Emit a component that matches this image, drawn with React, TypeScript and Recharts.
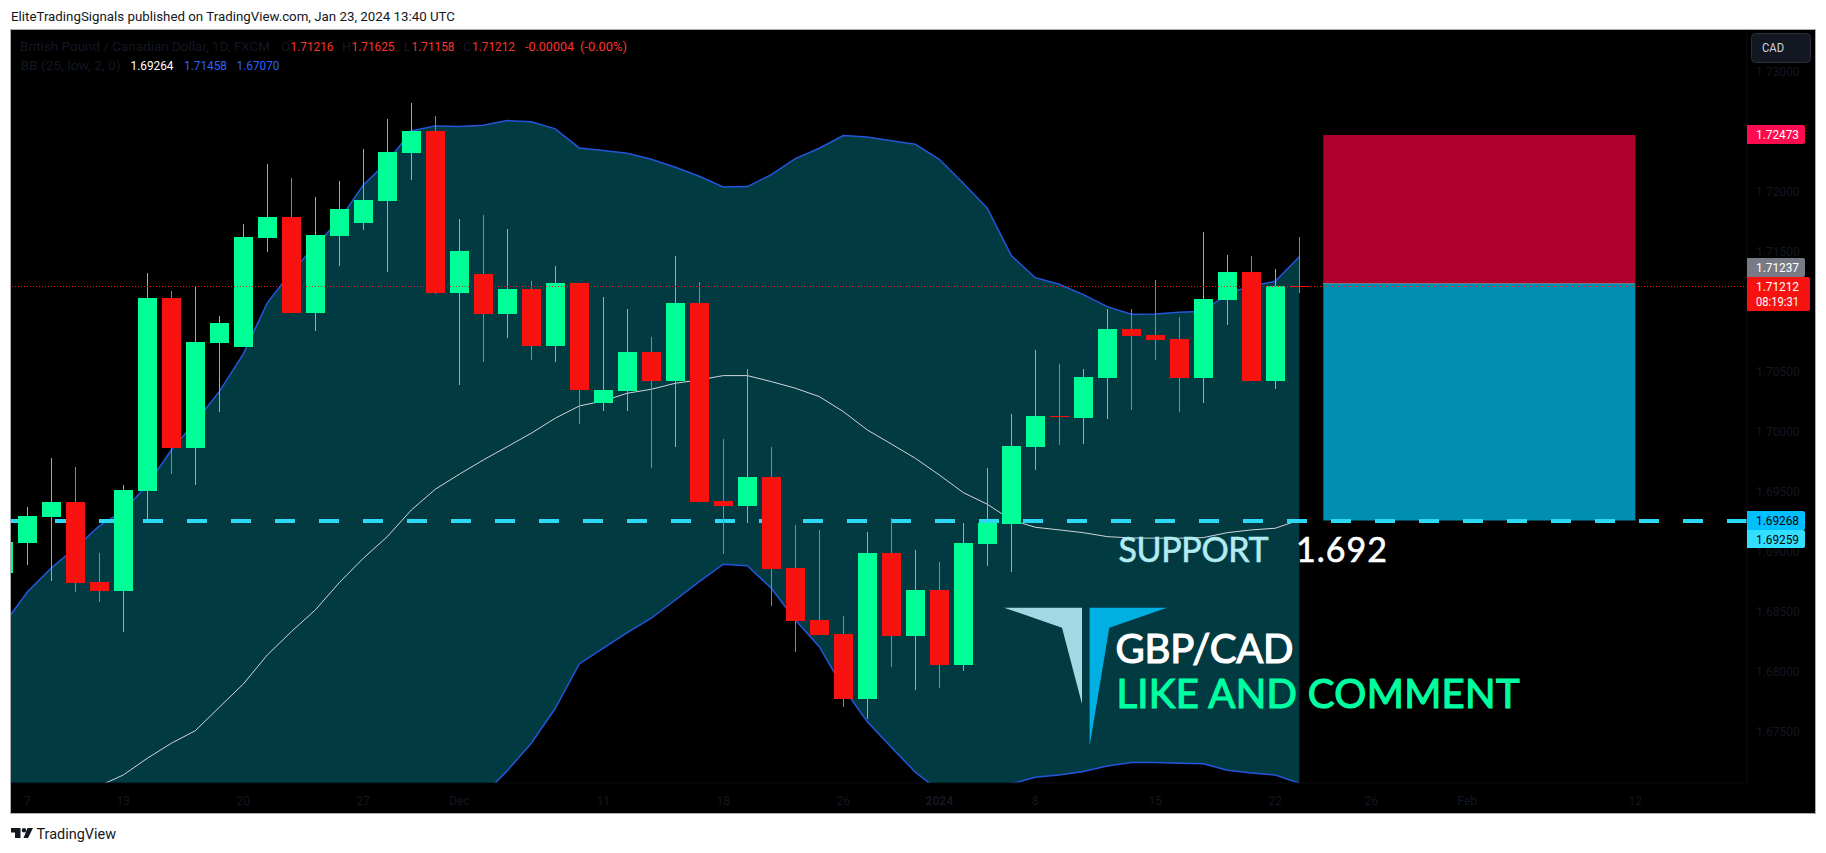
import { ComposedChart, Area, Line, Bar, XAxis, YAxis, ReferenceArea, ReferenceLine } from "recharts";

// GBP/CAD daily candles. Day 0 is Nov 7.
const days = Array.from({ length: 55 }, (_, i) => i - 1);

const opens = [1.68825, 1.69072, 1.69289, 1.69414, 1.68747, 1.68675, 1.69508, 1.71114, 1.69867, 1.70742, 1.70708, 1.71617, 1.71789, 1.70992, 1.71631, 1.71742, 1.71923, 1.72323, 1.72506, 1.71158, 1.71314, 1.70983, 1.71189, 1.70717, 1.71239, 1.70242, 1.70339, 1.70664, 1.70423, 1.71073, 1.69422, 1.69383, 1.69622, 1.68864, 1.68431, 1.68314, 1.67772, 1.68989, 1.68297, 1.68681, 1.68056, 1.69064, 1.69231, 1.69872, 1.70131, 1.70114, 1.70448, 1.70856, 1.70806, 1.70773, 1.70448, 1.71098, 1.71331, 1.70423, 1.71216];
const highs = [1.69081, 1.69372, 1.69781, 1.69706, 1.68989, 1.69556, 1.71323, 1.71173, 1.71214, 1.70964, 1.71731, 1.72231, 1.72114, 1.71956, 1.72089, 1.72356, 1.72606, 1.72739, 1.72631, 1.71773, 1.71806, 1.71689, 1.71256, 1.71381, 1.71239, 1.71123, 1.71023, 1.70789, 1.71464, 1.71248, 1.69939, 1.70523, 1.69872, 1.69222, 1.69181, 1.68464, 1.69164, 1.69281, 1.69014, 1.68914, 1.69239, 1.69697, 1.70148, 1.70681, 1.70564, 1.70523, 1.71023, 1.71023, 1.71264, 1.70956, 1.71664, 1.71473, 1.71464, 1.71356, 1.71625];
const lows = [1.68825, 1.68889, 1.68758, 1.68667, 1.68583, 1.68333, 1.69272, 1.6965, 1.69558, 1.70167, 1.70708, 1.715, 1.70992, 1.70842, 1.71383, 1.71681, 1.71333, 1.72098, 1.71148, 1.70389, 1.70583, 1.70783, 1.706, 1.70583, 1.70067, 1.70175, 1.70173, 1.697, 1.69872, 1.69417, 1.68981, 1.69239, 1.6855, 1.68167, 1.68306, 1.67706, 1.67606, 1.68039, 1.67847, 1.67864, 1.68006, 1.68881, 1.68831, 1.69681, 1.69889, 1.69897, 1.70106, 1.70181, 1.70598, 1.70164, 1.70239, 1.70889, 1.70423, 1.70356, 1.71158];
const closes = [1.69081, 1.69297, 1.69414, 1.68742, 1.68675, 1.69514, 1.71114, 1.69867, 1.70748, 1.70906, 1.71623, 1.71789, 1.70992, 1.71639, 1.71856, 1.71931, 1.72331, 1.72506, 1.71158, 1.71506, 1.70983, 1.71189, 1.70717, 1.71239, 1.7035, 1.70348, 1.70664, 1.70423, 1.71073, 1.69417, 1.69383, 1.69622, 1.68856, 1.68422, 1.68306, 1.67772, 1.68989, 1.68297, 1.68681, 1.68056, 1.69072, 1.69239, 1.69881, 1.70131, 1.70123, 1.70456, 1.70856, 1.70798, 1.70764, 1.70448, 1.71106, 1.71331, 1.70423, 1.71216, 1.71212];

// Bollinger bands, the values under the chart's bottom edge are estimates
const upperBand = [1.68389, 1.68664, 1.68864, 1.69031, 1.69214, 1.69339, 1.69556, 1.69847, 1.70083, 1.70333, 1.70648, 1.71073, 1.71331, 1.71548, 1.71764, 1.72056, 1.72248, 1.72506, 1.72548, 1.72542, 1.72553, 1.72592, 1.72583, 1.72523, 1.72364, 1.72342, 1.7232, 1.7227, 1.72203, 1.72128, 1.72039, 1.72042, 1.72142, 1.72275, 1.72362, 1.72467, 1.72456, 1.72425, 1.72395, 1.7227, 1.7207, 1.71862, 1.71467, 1.71283, 1.71228, 1.71142, 1.71042, 1.70978, 1.70981, 1.70995, 1.71003, 1.7115, 1.71214, 1.71253, 1.71458];
const midBand = [1.66556, 1.66681, 1.66806, 1.66931, 1.67047, 1.67139, 1.67278, 1.67403, 1.67508, 1.67703, 1.67897, 1.68139, 1.68333, 1.68514, 1.68742, 1.68945, 1.69125, 1.69347, 1.6952, 1.69645, 1.69764, 1.69875, 1.69987, 1.70112, 1.70214, 1.70256, 1.7032, 1.70353, 1.70403, 1.70431, 1.70467, 1.70467, 1.70417, 1.70362, 1.70292, 1.70167, 1.70014, 1.69897, 1.69778, 1.69639, 1.69492, 1.69395, 1.69264, 1.69203, 1.69181, 1.69158, 1.69125, 1.69114, 1.69112, 1.69112, 1.69117, 1.69158, 1.69181, 1.69195, 1.69264];
const lowerBand = [1.64722, 1.64697, 1.64747, 1.64831, 1.64881, 1.64939, 1.64997, 1.64956, 1.64931, 1.65072, 1.65147, 1.65206, 1.65339, 1.65481, 1.65722, 1.65831, 1.66006, 1.66189, 1.66489, 1.66747, 1.66972, 1.67175, 1.67403, 1.67695, 1.68064, 1.68195, 1.68325, 1.68445, 1.68597, 1.6875, 1.68895, 1.68883, 1.68695, 1.68431, 1.68208, 1.67862, 1.67583, 1.6737, 1.67162, 1.67006, 1.66914, 1.66931, 1.67064, 1.6712, 1.67139, 1.67167, 1.67214, 1.67242, 1.67242, 1.67237, 1.67233, 1.67178, 1.67156, 1.67139, 1.6707];

const priceTicks = [1.675, 1.68, 1.685, 1.69, 1.695, 1.7, 1.705, 1.715, 1.72, 1.73];
const timeTicks = [0, 4, 9, 14, 18, 24, 29, 34, 38, 42, 47, 52, 56, 60, 67];
const timeLabels = ["7", "13", "20", "27", "Dec", "11", "18", "26", "2024", "8", "15", "22", "26", "Feb", "12"];

const stopLevel = 1.72473;
const entryLevel = 1.71237;
const targetLevel = 1.69259;
const lastPrice = 1.71212;
const boxStart = 54;
const boxEnd = 67;

const GREEN = "#00ff97";
const RED = "#f7120f";
const WICK_DOWN = "#00bcd4";
const BAND = "#2456dc";
const AXIS_TEXT = "#131722";
const LEGEND_RED = "#f7352f";

const table = days.map((day, i) => ({
  day,
  open: opens[i],
  high: highs[i],
  low: lows[i],
  close: closes[i],
  upper: upperBand[i],
  mid: midBand[i],
  lower: lowerBand[i],
}));

// wick and body, scaled from the low-high bar recharts hands us
const Candle = (props: any) => {
  const { x, y, width, height, payload } = props;
  const { open, high, low, close } = payload;
  const up = close >= open;
  const perPrice = height / (high - low);
  const top = y + (high - Math.max(open, close)) * perPrice;
  const bottom = y + (high - Math.min(open, close)) * perPrice;
  const left = Math.round(x);
  const bodyTop = Math.round(top);
  const bodyH = Math.max(1, Math.round(bottom) - bodyTop);
  return (
    <g shapeRendering="crispEdges">
      <rect x={left + Math.floor(width / 2)} y={y} width={1} height={height} fill={up ? GREEN : WICK_DOWN} />
      <rect x={left} y={bodyTop} width={width} height={bodyH} fill={up ? GREEN : RED} />
    </g>
  );
};

const TimeTick = (props: any) => {
  const { x, y, payload } = props;
  const label = timeLabels[timeTicks.indexOf(payload.value)];
  return (
    <text x={x} y={y + 20} textAnchor="middle" fill={AXIS_TEXT} fontSize={12} fontWeight={label === "2024" ? 700 : 400} fontFamily="Roboto">
      {label}
    </text>
  );
};

const T = ({ x, y, len, size = 13, fill = "#131722", family = "Roboto", thick = 0, spaced = false, children }: any) => (
  <text
    x={x}
    y={y}
    textLength={len}
    lengthAdjust={spaced ? "spacing" : "spacingAndGlyphs"}
    fontSize={size}
    fill={fill}
    stroke={thick ? fill : "none"}
    strokeWidth={thick}
    fontFamily={family}
  >
    {children}
  </text>
);

const PriceTag = ({ y, h, w = 58, bg, fg = "#fff", label }: any) => (
  <g>
    <path d={`M1747 ${y} h${w - 2} q2 0 2 2 v${h - 4} q0 2 -2 2 h${-(w - 2)} z`} fill={bg} />
    <T x={1756} y={y + h / 2 + 4.5} len={43} size={13} fill={fg}>{label}</T>
  </g>
);

export default function App() {
  return (
    <div style={{ position: "absolute", left: 0, top: 0, width: 1826, height: 853, background: "#fff", overflow: "hidden" }}>
      <div style={{ position: "absolute", left: 10, top: 29, width: 1804, height: 783, background: "#000", border: "1px solid #a9acb4" }} />

      <ComposedChart
        width={1826}
        height={853}
        data={table}
        margin={{ top: 30, right: 11, bottom: 40, left: 11 }}
        style={{ position: "absolute", left: 0, top: 0 }}
      >
        <XAxis
          dataKey="day"
          type="number"
          domain={[-0.679, 71.654]}
          allowDataOverflow
          ticks={timeTicks}
          interval={0}
          height={30}
          tickSize={0}
          tick={TimeTick}
          axisLine={{ stroke: "#0b0d13" }}
        />
        <YAxis
          orientation="right"
          domain={[1.67072, 1.73347]}
          allowDataOverflow
          ticks={priceTicks}
          interval={0}
          width={68}
          tickSize={0}
          tickMargin={9}
          tickFormatter={(v: number) => v.toFixed(5)}
          tick={{ fill: AXIS_TEXT, fontSize: 12, fontFamily: "Roboto" }}
          axisLine={{ stroke: "#0b0d13" }}
        />

        <ReferenceArea x1={boxStart} x2={boxEnd} y1={entryLevel} y2={stopLevel} fill="#b2002e" fillOpacity={1} stroke="none" zIndex={50} />
        <ReferenceArea x1={boxStart} x2={boxEnd} y1={targetLevel} y2={entryLevel} fill="#008eb3" fillOpacity={1} stroke="none" zIndex={50} />
        <ReferenceLine segment={[{ x: boxStart, y: entryLevel }, { x: boxEnd, y: entryLevel }]} stroke="#787b86" shapeRendering="crispEdges" zIndex={60} />

        <Area
          dataKey={(d: any) => [d.lower, d.upper]}
          type="linear"
          fill="#023a42"
          fillOpacity={1}
          stroke={BAND}
          strokeWidth={1.5}
          dot={false}
          activeDot={false}
          isAnimationActive={false}
          zIndex={100}
        />
        <Line dataKey="mid" type="linear" stroke="#d1d4dc" strokeWidth={1} dot={false} activeDot={false} isAnimationActive={false} zIndex={150} />
        <ReferenceLine y={targetLevel} stroke="#2bd9f5" strokeWidth={4} strokeDasharray="20 24" shapeRendering="crispEdges" zIndex={200} />

        <Bar dataKey={(d: any) => [d.low, d.high]} barSize={19} shape={Candle} isAnimationActive={false} zIndex={300} />

        <ReferenceLine y={lastPrice} stroke={RED} strokeWidth={1} strokeDasharray="1 2" shapeRendering="crispEdges" zIndex={400} />
      </ComposedChart>

      <svg width={1826} height={853} style={{ position: "absolute", left: 0, top: 0, pointerEvents: "none" }}>
        <T x={11} y={21} len={444} size={13} fill="#131722">EliteTradingSignals published on TradingView.com, Jan 23, 2024 13:40 UTC</T>

        <T x={20} y={51} len={250}>British Pound / Canadian Dollar, 1D, FXCM</T>
        <T x={281} y={51}>O</T>
        <T x={290.5} y={51} len={43} fill={LEGEND_RED}>1.71216</T>
        <T x={342} y={51}>H</T>
        <T x={351.5} y={51} len={43} fill={LEGEND_RED}>1.71625</T>
        <T x={404} y={51}>L</T>
        <T x={411.5} y={51} len={43} fill={LEGEND_RED}>1.71158</T>
        <T x={463} y={51}>C</T>
        <T x={472} y={51} len={43} fill={LEGEND_RED}>1.71212</T>
        <T x={525} y={51} len={49} fill={LEGEND_RED}>-0.00004</T>
        <T x={580} y={51} len={47} fill={LEGEND_RED}>(-0.00%)</T>
        <T x={20.5} y={70} len={100}>BB (25, low, 2, 0)</T>
        <T x={130.5} y={70} len={43} fill="#fff">1.69264</T>
        <T x={184} y={70} len={43} fill="#2962ff">1.71458</T>
        <T x={236.5} y={70} len={43} fill="#2962ff">1.67070</T>

        <rect x={1751.5} y={33.5} width={59} height={29} rx={4} fill="#131722" stroke="#2a2e39" />
        <T x={1762} y={52} len={22} size={12} fill="#d1d4dc">CAD</T>

        <PriceTag y={125} h={19} bg="#ff0a4e" label="1.72473" />
        <PriceTag y={258} h={19} bg="#787b86" label="1.71237" />
        <path d="M1747 277 h61 q2 0 2 2 v30 q0 2 -2 2 h-61 z" fill={RED} />
        <T x={1756} y={291} len={43} size={13} fill="#fff">1.71212</T>
        <T x={1756} y={306} len={43} size={13} fill="#fff">08:19:31</T>
        <PriceTag y={511} h={19} bg="#00bfff" fg="#000" label="1.69268" />
        <PriceTag y={530} h={18} bg="#33dfff" fg="#000" label="1.69259" />

        <T x={1118.5} y={562} len={150} size={34} fill="#b2ebf2" family="Lato" thick={0.6} spaced>SUPPORT</T>
        <T x={1296} y={562} len={91} size={34} fill="#fff" family="Lato" thick={0.6} spaced>1.692</T>
        <polygon points="1004,607.7 1082,607.7 1082,704 1062,627.7" fill="#a0d8e4" />
        <polygon points="1089.6,607.7 1167,607.7 1109.3,627.7 1089.6,746" fill="#00b0e3" />
        <T x={1115.5} y={663} len={178} size={40} fill="#fff" family="Lato" thick={1.2} spaced>GBP/CAD</T>
        <T x={1116.5} y={708} len={403} size={40} fill="#00ffa0" family="Lato" thick={1.2} spaced>LIKE AND COMMENT</T>

        <path d="M11 828 h9.5 v10 h-5.5 v-5.5 h-4 z M27.5 828 h5.5 l-5 10 h-4.5 z" fill="#131722" />
        <circle cx={24} cy={830.3} r={2.2} fill="#131722" />
        <T x={36.5} y={839} len={79.5} size={14} fill="#131722">TradingView</T>
      </svg>
    </div>
  );
}
